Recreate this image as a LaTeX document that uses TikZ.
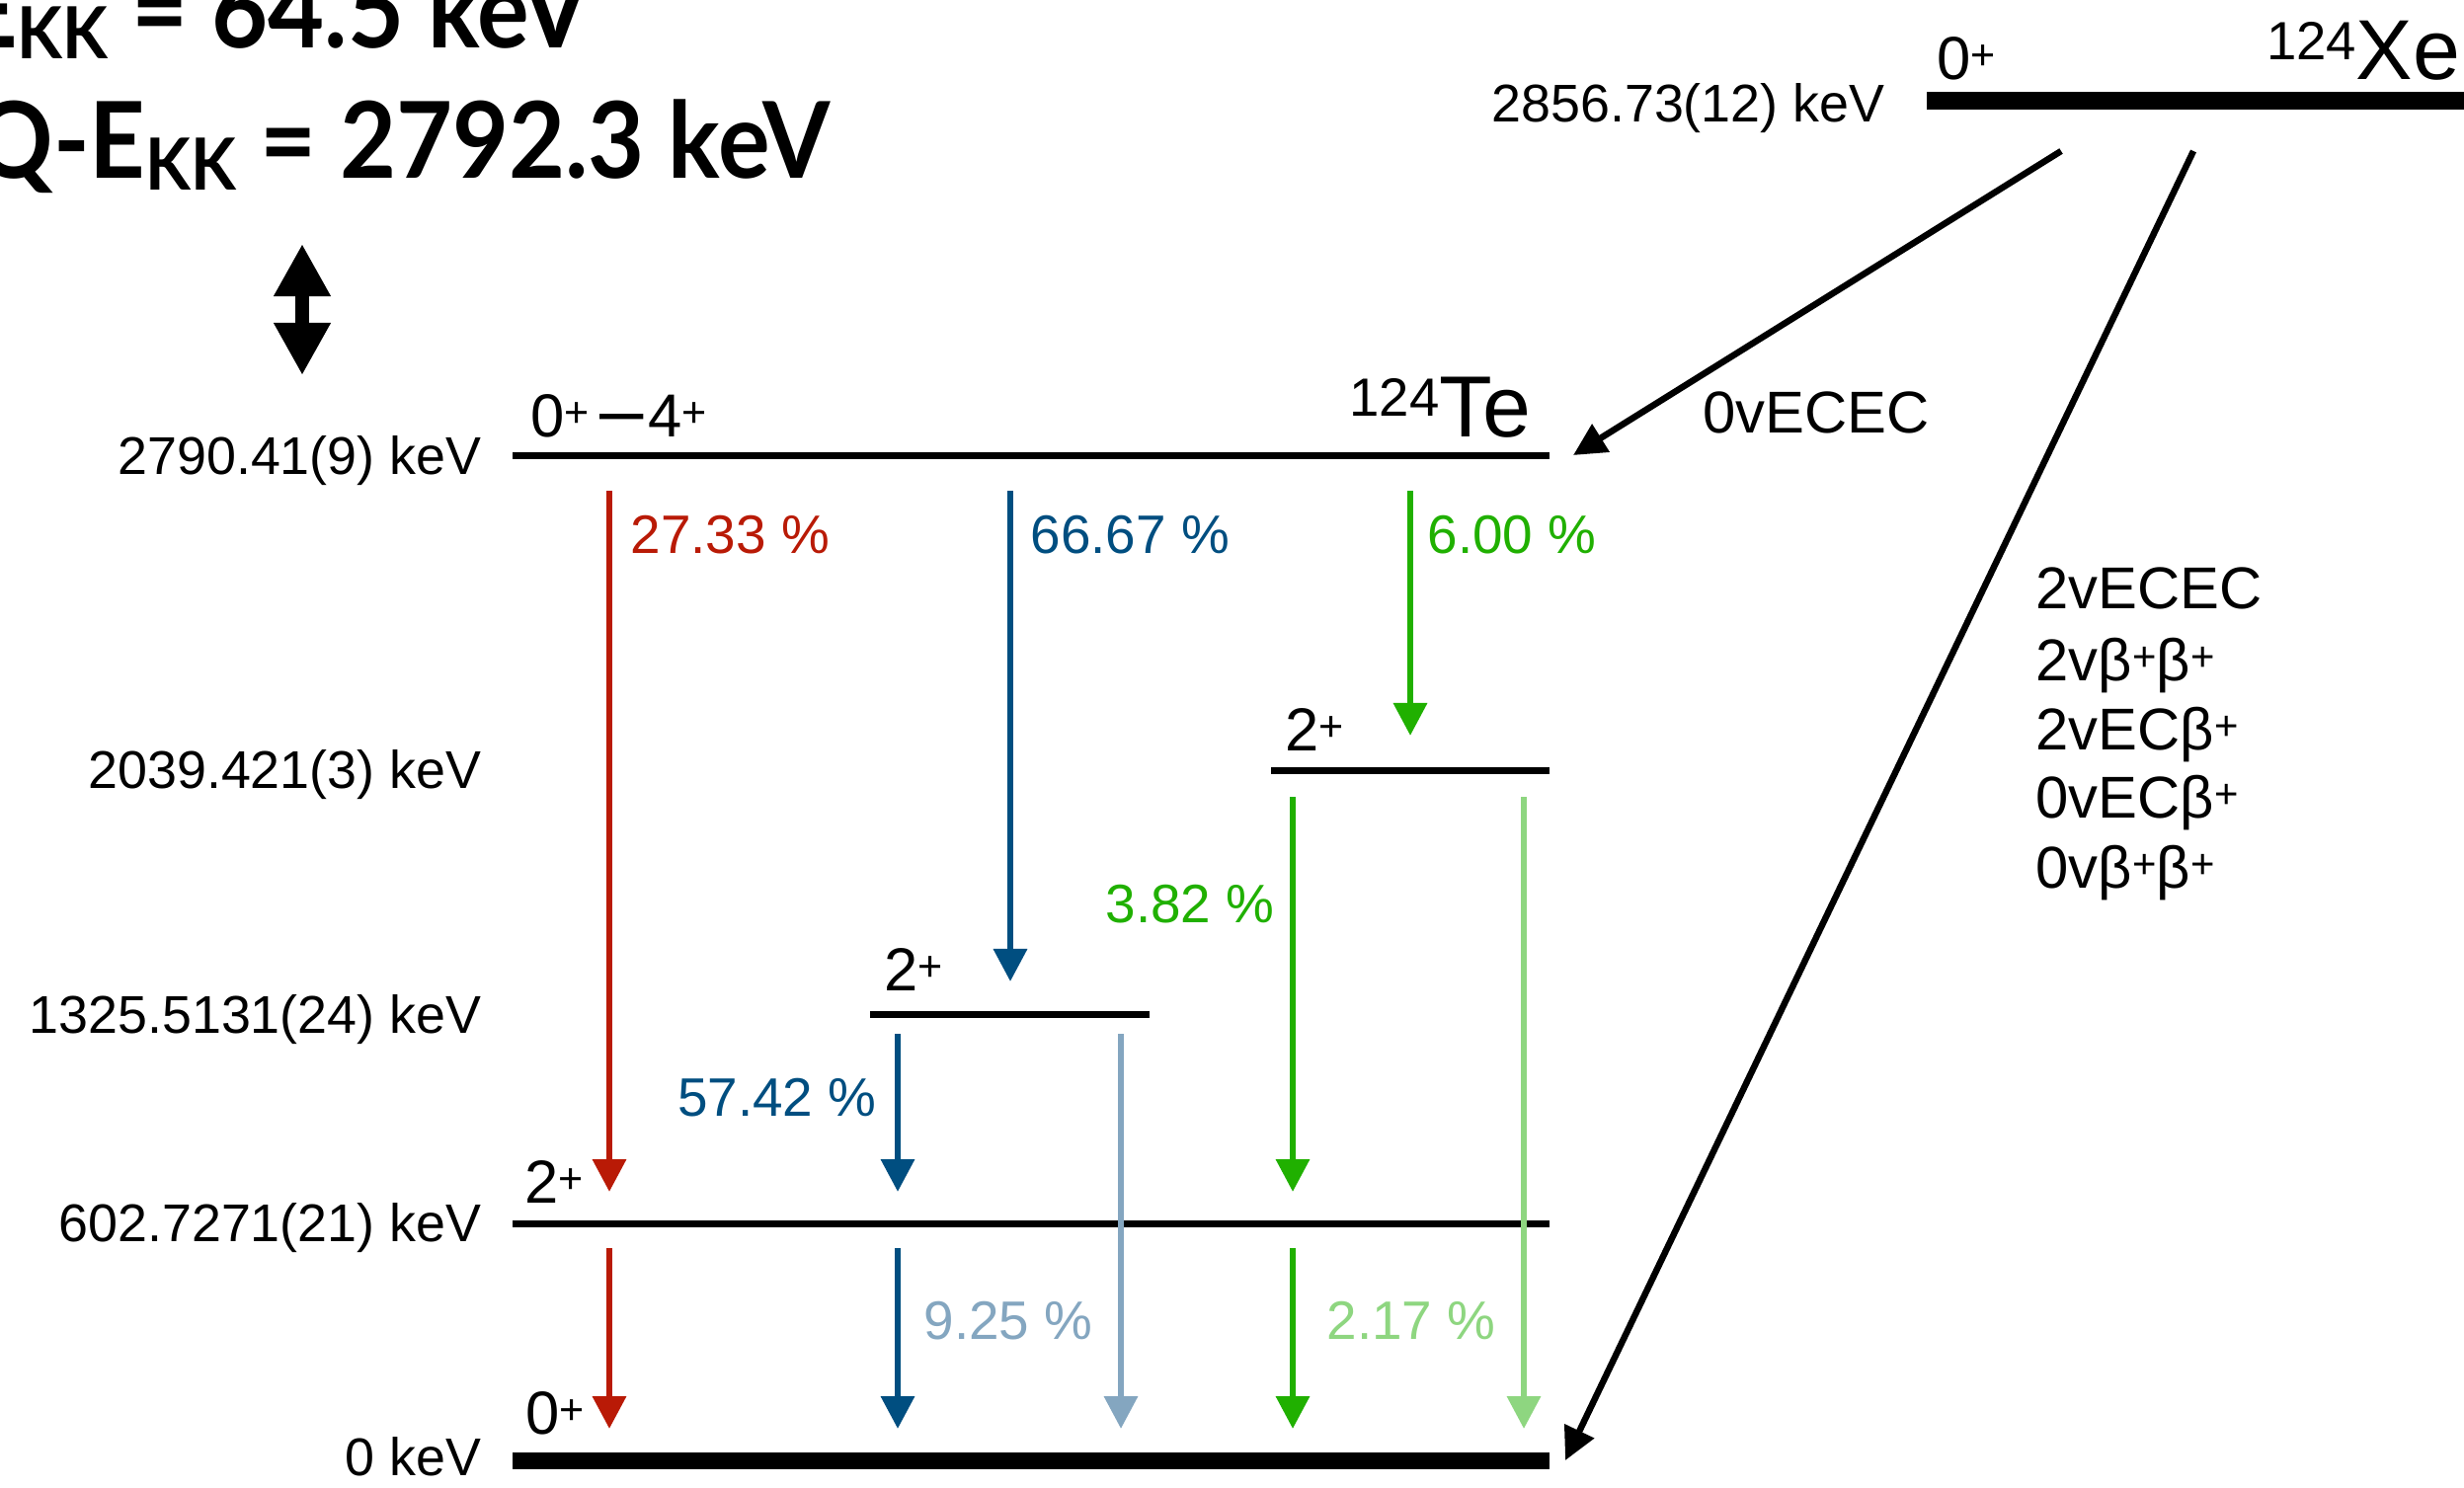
\documentclass[tikz,border=0pt]{standalone}
\usepackage{fontspec}
\usepackage{graphicx}
\setmainfont{Liberation Sans}
\newfontfamily\titlefont{Lato}
\usetikzlibrary{arrows.meta}

\definecolor{cred}{RGB}{185,26,6}
\definecolor{cblue}{RGB}{0,78,128}
\definecolor{cgreen}{RGB}{32,176,0}
\definecolor{clblue}{RGB}{132,166,192}
\definecolor{clgreen}{RGB}{142,214,128}

\newcommand{\splus}{\raisebox{0.16em}{\scalebox{0.7}{+}}}

\tikzset{
  lvl/.style={line width=0.07cm},
  lvlthick/.style={line width=0.17cm},
  gam/.style={line width=0.065cm, -{Triangle[length=0.33cm,width=0.33cm]}},
  bigarr/.style={line width=0.065cm, black, -{Triangle[length=0.33cm,width=0.32cm]}},
  elab/.style={anchor=base east, inner sep=0pt, font=\fontsize{15.3}{18}\selectfont},
  spin/.style={anchor=base west, inner sep=0pt, font=\fontsize{17.5}{20}\selectfont},
  pct/.style={inner sep=0pt, font=\fontsize{15.6}{18}\selectfont},
  mode/.style={anchor=base west, inner sep=0pt, font=\fontsize{17}{20}\selectfont},
  ttl/.style={anchor=base east, inner sep=0pt, font=\titlefont\bfseries\fontsize{28}{30}\selectfont},
}

\begin{document}
\begin{tikzpicture}[x=0.01cm, y=-0.01cm]
\useasboundingbox (0,0) rectangle (2495,1506);
\clip (0,0) rectangle (2495,1506);
\fill[white] (0,0) rectangle (2495,1506);

% ---------- title ----------
\node[ttl] (t1) at (597,48) {\scalebox{1}[1.09]{E\raisebox{-0.11cm}{\fontsize{19}{20}\selectfont KK} = 64.5 keV}};
\node[ttl] (t2) at (841,180) {\scalebox{1}[1.09]{Q-E\raisebox{-0.11cm}{\fontsize{19}{20}\selectfont KK} = 2792.3 keV}};

% double arrow
\coordinate (da1) at (306,247);
\coordinate (da2) at (306,380);
\draw[line width=0.14cm, {Triangle[length=0.53cm,width=0.54cm]}-{Triangle[length=0.53cm,width=0.54cm]}] (da1) -- (da2);

% ---------- levels ----------
\coordinate (XeA) at (1951,102); \coordinate (XeB) at (2495,102);
\coordinate (L4A) at (519,461);  \coordinate (L4B) at (1569,461);
\coordinate (L3A) at (1287,780); \coordinate (L3B) at (1569,780);
\coordinate (L2A) at (881,1027); \coordinate (L2B) at (1164,1027);
\coordinate (L1A) at (519,1239); \coordinate (L1B) at (1569,1239);
\coordinate (L0A) at (519,1479); \coordinate (L0B) at (1569,1479);

\draw[lvlthick] (XeA) -- (XeB);
\draw[lvl] (L4A) -- (L4B);
\draw[lvl] (L3A) -- (L3B);
\draw[lvl] (L2A) -- (L2B);
\draw[lvl] (L1A) -- (L1B);
\draw[lvlthick] (L0A) -- (L0B);

% energy labels
\node[elab] (eXe) at (1909,123) {2856.73(12) keV};
\node[elab] (e4) at (488,480) {2790.41(9) keV};
\node[elab] (e3) at (488,798) {2039.421(3) keV};
\node[elab] (e2) at (488,1046) {1325.5131(24) keV};
\node[elab] (e1) at (488,1257) {602.7271(21) keV};
\node[elab] (e0) at (488,1494) {0 keV};

% spin labels
\node[spin] (sXe) at (1961,80) {0\splus};
\node[spin] (s4) at (537,442) {0\splus\hspace{0.1cm}\scalebox{0.72}[1.3]{—}\hspace{0.05cm}4\splus};
\node[spin] (s3) at (1301,760) {2\splus};
\node[spin] (s2) at (895,1003) {2\splus};
\node[spin] (s1) at (531,1218) {2\splus};
\node[spin] (s0) at (532,1452) {0\splus};

% nuclide labels
\node[anchor=base east, inner sep=0pt, font=\fontsize{25}{28}\selectfont] (te) at (1551,442)
  {\raisebox{0.2cm}{\fontsize{15.5}{18}\selectfont 124}Te};
\node[anchor=base east, inner sep=0pt, font=\fontsize{24.5}{28}\selectfont] (xe) at (2492,80)
  {\raisebox{0.19cm}{\fontsize{15.5}{18}\selectfont 124}Xe};

% ---------- gamma arrows ----------
\coordinate (r1s) at (617,497);  \coordinate (r1e) at (617,1207);
\coordinate (r2s) at (617,1264); \coordinate (r2e) at (617,1447);
\coordinate (b1s) at (1023,497); \coordinate (b1e) at (1023,994);
\coordinate (b2s) at (909,1047); \coordinate (b2e) at (909,1207);
\coordinate (b3s) at (909,1264); \coordinate (b3e) at (909,1447);
\coordinate (lbs) at (1135,1047); \coordinate (lbe) at (1135,1447);
\coordinate (g1s) at (1428,497); \coordinate (g1e) at (1428,745);
\coordinate (g2s) at (1309,807); \coordinate (g2e) at (1309,1207);
\coordinate (g3s) at (1309,1264); \coordinate (g3e) at (1309,1447);
\coordinate (lgs) at (1543,807); \coordinate (lge) at (1543,1447);

\draw[gam, cred] (r1s) -- (r1e);
\draw[gam, cred] (r2s) -- (r2e);
\draw[gam, cblue] (b1s) -- (b1e);
\draw[gam, cblue] (b2s) -- (b2e);
\draw[gam, cblue] (b3s) -- (b3e);
\draw[gam, clblue] (lbs) -- (lbe);
\draw[gam, cgreen] (g1s) -- (g1e);
\draw[gam, cgreen] (g2s) -- (g2e);
\draw[gam, cgreen] (g3s) -- (g3e);
\draw[gam, clgreen] (lgs) -- (lge);

% percentages
\node[pct, anchor=base west, text=cred] (p1) at (638,560) {27.33 \%};
\node[pct, anchor=base west, text=cblue] (p2) at (1043,560) {66.67 \%};
\node[pct, anchor=base west, text=cgreen] (p3) at (1445,560) {6.00 \%};
\node[pct, anchor=base east, text=cgreen] (p4) at (1291,934) {3.82 \%};
\node[pct, anchor=base east, text=cblue] (p5) at (888,1130) {57.42 \%};
\node[pct, anchor=base west, text=clblue] (p6) at (935,1356) {9.25 \%};
\node[pct, anchor=base west, text=clgreen] (p7) at (1343,1356) {2.17 \%};

% ---------- decay arrows ----------
\coordinate (d1s) at (2087,153); \coordinate (d1e) at (1593,461);
\coordinate (d2s) at (2221,153); \coordinate (d2e) at (1585,1479);
\draw[bigarr] (d1s) -- (d1e);
\draw[bigarr] (d2s) -- (d2e);

\node[mode] (m0) at (1724,438) {0vECEC};
\node[mode] (m1) at (2061,616) {2vECEC};
\node[mode] (m2) at (2061,689) {2vβ\splus β\splus};
\node[mode] (m3) at (2061,759) {2vECβ\splus};
\node[mode] (m4) at (2061,828) {0vECβ\splus};
\node[mode] (m5) at (2061,899) {0vβ\splus β\splus};
\end{tikzpicture}
\end{document}
